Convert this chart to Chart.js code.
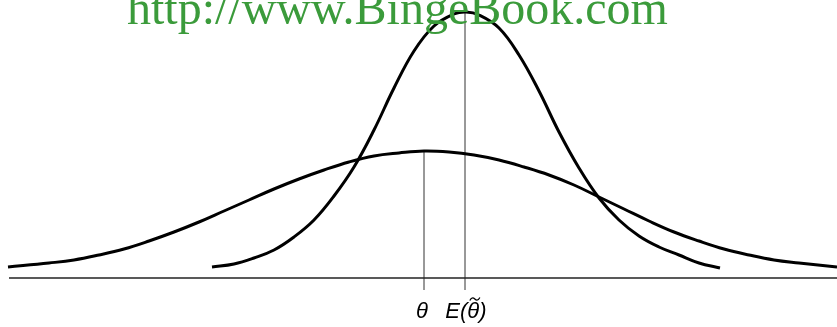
<!DOCTYPE html>
<html>
<head>
<meta charset="utf-8">
<script src="https://cdn.jsdelivr.net/npm/chart.js"></script>
<style>
    html, body { margin: 0; padding: 0; background: #fff; }
    #wrap { width: 837px; height: 327px; }
</style>
</head>
<body>
<div id="wrap"><canvas id="curves" width="837" height="327"></canvas></div>
<script>
// x in "theta units" (theta = 0), y = density height above the axis
const wideX = [-4.16, -3.75, -3.5, -3.25, -3.0, -2.75, -2.5, -2.25, -2.0, -1.75, -1.5, -1.25, -1.0, -0.75, -0.5, -0.25, 0, 0.25, 0.5, 0.75, 1.0, 1.25, 1.5, 1.75, 2.0, 2.25, 2.5, 2.75, 3.0, 3.25, 3.5, 3.75, 4.13];
const wideY = [0.11, 0.15, 0.18, 0.23, 0.29, 0.37, 0.46, 0.56, 0.67, 0.78, 0.89, 0.99, 1.08, 1.16, 1.22, 1.25, 1.27, 1.26, 1.23, 1.18, 1.11, 1.03, 0.93, 0.81, 0.69, 0.57, 0.46, 0.37, 0.29, 0.23, 0.18, 0.15, 0.11];

const narrowX = [-2.12, -1.9, -1.7, -1.5, -1.3, -1.1, -0.9, -0.7, -0.5, -0.3, -0.1, 0.1, 0.3, 0.42, 0.55, 0.75, 0.95, 1.15, 1.35, 1.55, 1.75, 1.95, 2.15, 2.35, 2.55, 2.75, 2.96];
const narrowY = [0.11, 0.14, 0.20, 0.28, 0.41, 0.58, 0.82, 1.11, 1.48, 1.90, 2.27, 2.52, 2.64, 2.66, 2.63, 2.50, 2.23, 1.87, 1.46, 1.10, 0.80, 0.58, 0.42, 0.31, 0.23, 0.15, 0.10];

const axisStart = -4.15;
const axisEnd = 4.13;
const tickX = [0, 0.41];            // theta, E(theta~)
const tickTop = [1.27, 2.66];       // where each marker line meets its curve
const tickLabels = ["\u03B8", "E(\u03B8\u0303)"];
const watermark = "http://www.BingeBook.com";

function pts(xs, ys) {
    return xs.map(function (x, i) { return { x: x, y: ys[i] }; });
}

const lineSets = [
    {
        data: pts(wideX, wideY),
        borderColor: "#000",
        borderWidth: 3,
        tension: 0.4,
    },
    {
        data: pts(narrowX, narrowY),
        borderColor: "#000",
        borderWidth: 3,
        tension: 0.4,
    },
    {
        data: [{ x: axisStart, y: 0 }, { x: axisEnd, y: 0 }],
        borderColor: "#222",
        borderWidth: 1.6,
    },
];
tickX.forEach(function (x, i) {
    lineSets.push({
        data: [{ x: x, y: -0.12 }, { x: x, y: tickTop[i] }],
        borderColor: "#333",
        borderWidth: 1,
    });
});
lineSets.forEach(function (d) {
    d.showLine = true;
    d.pointRadius = 0;
    d.fill = false;
    d.clip = false;
});

// draws "E(θ)" piece by piece so the tilde can sit over the theta
function drawExpLabel(ctx, cx, base) {
    const plain = tickLabels[1].replace("\u0303", "");
    const full = ctx.measureText(plain).width;
    let x = cx - full / 2;
    const head = plain.slice(0, 2), th = plain.charAt(2), tail = plain.slice(3);
    ctx.textAlign = "left";
    ctx.fillText(head, x, base);
    x += ctx.measureText(head).width;
    const tw = ctx.measureText(th).width;
    ctx.fillText(th, x, base);
    // tilde
    const tx = x + tw / 2 + 1.5, ty = base - 19;
    ctx.beginPath();
    ctx.moveTo(tx - 5, ty + 1.5);
    ctx.bezierCurveTo(tx - 3, ty - 2.5, tx - 1, ty - 1, tx, ty);
    ctx.bezierCurveTo(tx + 1, ty + 1, tx + 3, ty + 2.5, tx + 5, ty - 1.5);
    ctx.lineWidth = 1.3;
    ctx.strokeStyle = "#000";
    ctx.stroke();
    x += tw;
    ctx.fillText(tail, x, base);
}

const labelPlugin = {
    id: "labels",
    afterDraw: function (chart) {
        const ctx = chart.ctx;
        const xs = chart.scales.x;
        ctx.save();
        ctx.fillStyle = "#000";
        ctx.font = "italic 22px 'Liberation Sans', Arial, sans-serif";
        ctx.textAlign = "center";
        ctx.textBaseline = "alphabetic";
        ctx.fillText(tickLabels[0], xs.getPixelForValue(tickX[0]) - 2, 318);
        drawExpLabel(ctx, xs.getPixelForValue(tickX[1]) + 1, 318);
        ctx.fillStyle = "#3b9b3b";
        ctx.font = "48px 'Liberation Serif', 'Times New Roman', serif";
        ctx.textAlign = "left";
        ctx.fillText(watermark, 127, 24);
        ctx.restore();
    },
};

new Chart(document.getElementById("curves").getContext("2d"), {
    type: "scatter",
    data: { datasets: lineSets },
    options: {
        responsive: false,
        animation: false,
        layout: { padding: 0 },
        plugins: {
            legend: { display: false },
            tooltip: { enabled: false },
        },
        scales: {
            x: { type: "linear", min: -4.24, max: 4.13, display: false },
            y: { type: "linear", min: -0.49, max: 2.78, display: false },
        },
    },
    plugins: [labelPlugin],
});
</script>
</body>
</html>
